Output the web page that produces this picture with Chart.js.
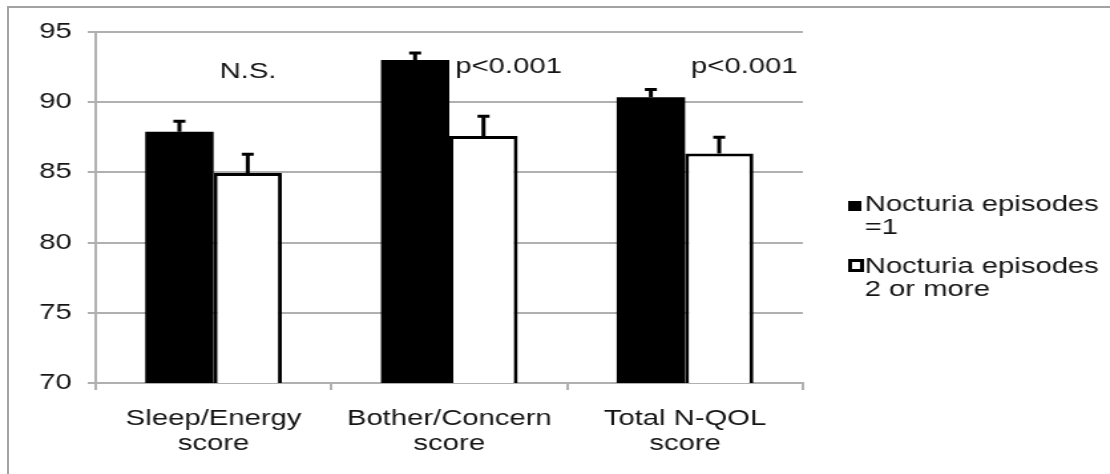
<!DOCTYPE html>
<html>
<head>
<meta charset="utf-8">
<script src="https://cdn.jsdelivr.net/npm/chart.js@4"></script>
<style>
body{margin:0;background:#fff;overflow:hidden}
#marco{position:absolute;left:7px;top:6px;width:1110px;height:474px;border-top:2px solid #a3a3a3;border-left:2px solid #a3a3a3}
#grafico{position:absolute;left:0;top:0;width:835px;height:474px;transform:scaleX(1.3293);transform-origin:0 0}
</style>
</head>
<body>
<div id="marco"></div>
<canvas id="grafico" width="835" height="474"></canvas>
<script>
// datos
const categorias = [['Sleep/Energy', 'score'], ['Bother/Concern', 'score'], ['Total N-QOL', 'score']];
const etiquetasSeries = [['Nocturia episodes', '=1'], ['Nocturia episodes', '2 or more']];
const valoresUnEpisodio = [87.9, 93.0, 90.35];
const valoresDosOMas = [84.95, 87.6, 86.35];
const errorUnEpisodio = [0.75, 0.5, 0.55];
const errorDosOMas = [1.35, 1.4, 1.15];
const textosSignificancia = ['N.S.', 'p<0.001', 'p<0.001'];
const alturaSignificancia = [91.7, 92.05, 92.05];
const ticksY = [70, 75, 80, 85, 90, 95];

const colorTexto = '#151515';
const colorGrid = '#b0b0b0';
const fuente = "22px 'Liberation Sans', Arial, sans-serif";
Chart.defaults.font.family = "'Liberation Sans', Arial, sans-serif";
Chart.defaults.font.size = 22;
Chart.defaults.color = colorTexto;

// barras de error (solo hacia arriba)
const barrasError = {
    id: 'barrasError',
    afterDatasetsDraw(chart) {
        const ctx = chart.ctx;
        const y = chart.scales.y;
        chart.data.datasets.forEach((ds, i) => {
            chart.getDatasetMeta(i).data.forEach((barra, j) => {
                const arriba = y.getPixelForValue(ds.data[j] + ds.errores[j]);
                ctx.save();
                ctx.strokeStyle = '#000';
                ctx.lineWidth = 3;
                ctx.beginPath();
                ctx.moveTo(barra.x, barra.y);
                ctx.lineTo(barra.x, arriba);
                ctx.moveTo(barra.x - 4.5, arriba);
                ctx.lineTo(barra.x + 4.5, arriba);
                ctx.stroke();
                ctx.restore();
            });
        });
    }
};

// textos N.S. / p<0.001
const significancia = {
    id: 'significancia',
    afterDatasetsDraw(chart) {
        const ctx = chart.ctx;
        const y = chart.scales.y;
        chart.getDatasetMeta(0).data.forEach((barra, j) => {
            ctx.save();
            ctx.font = fuente;
            ctx.fillStyle = colorTexto;
            ctx.textAlign = 'left';
            ctx.textBaseline = 'alphabetic';
            ctx.fillText(textosSignificancia[j], barra.x + barra.width / 2 + 4.5, y.getPixelForValue(alturaSignificancia[j]));
            ctx.restore();
        });
    }
};

// leyenda a la derecha, con dos lineas por entrada
const leyenda = {
    id: 'leyenda',
    afterDraw(chart) {
        const ctx = chart.ctx;
        const x = chart.chartArea.right + 34;
        const bases = [211, 273];
        ctx.save();
        ctx.font = fuente;
        ctx.textBaseline = 'alphabetic';
        chart.data.datasets.forEach((ds, i) => {
            const b = bases[i];
            if (i === 0) {
                ctx.fillStyle = '#000';
                ctx.fillRect(x, b - 10, 10, 10);
            } else {
                ctx.strokeStyle = '#000';
                ctx.lineWidth = 3;
                ctx.strokeRect(x + 1.5, b - 12.5, 9, 10);
            }
            ctx.fillStyle = colorTexto;
            ds.label.forEach((linea, k) => ctx.fillText(linea, x + 12.5, b + k * 23));
        });
        ctx.restore();
    }
};

new Chart(document.getElementById('grafico'), {
    type: 'bar',
    data: {
        labels: categorias,
        datasets: [{
            label: etiquetasSeries[0],
            data: valoresUnEpisodio,
            errores: errorUnEpisodio,
            backgroundColor: '#000',
            borderWidth: 0
        }, {
            label: etiquetasSeries[1],
            data: valoresDosOMas,
            errores: errorDosOMas,
            backgroundColor: '#fff',
            borderColor: '#000',
            borderWidth: 3,
            borderSkipped: false
        }]
    },
    options: {
        responsive: false,
        animation: false,
        devicePixelRatio: 1,
        categoryPercentage: 0.58,
        barPercentage: 1,
        layout: { padding: { top: 32, right: 231, left: 0, bottom: 0 } },
        plugins: { legend: { display: false }, tooltip: { enabled: false } },
        scales: {
            y: {
                min: 70,
                max: 95,
                afterBuildTicks: s => { s.ticks = ticksY.map(v => ({ value: v })); },
                afterFit: s => { s.width = 72; },
                grid: { color: colorGrid, lineWidth: 2, tickLength: 6, tickColor: colorGrid },
                border: { color: colorGrid, width: 2 },
                ticks: { padding: 12, color: colorTexto }
            },
            x: {
                afterFit: s => { s.height = 91; },
                grid: { display: true, drawOnChartArea: false, offset: true, tickLength: 7, color: colorGrid, lineWidth: 2 },
                border: { color: colorGrid, width: 2 },
                ticks: { padding: 16, maxRotation: 0, color: colorTexto, font: { size: 22, lineHeight: 1.14 } }
            }
        }
    },
    plugins: [barrasError, significancia, leyenda]
});
</script>
</body>
</html>
